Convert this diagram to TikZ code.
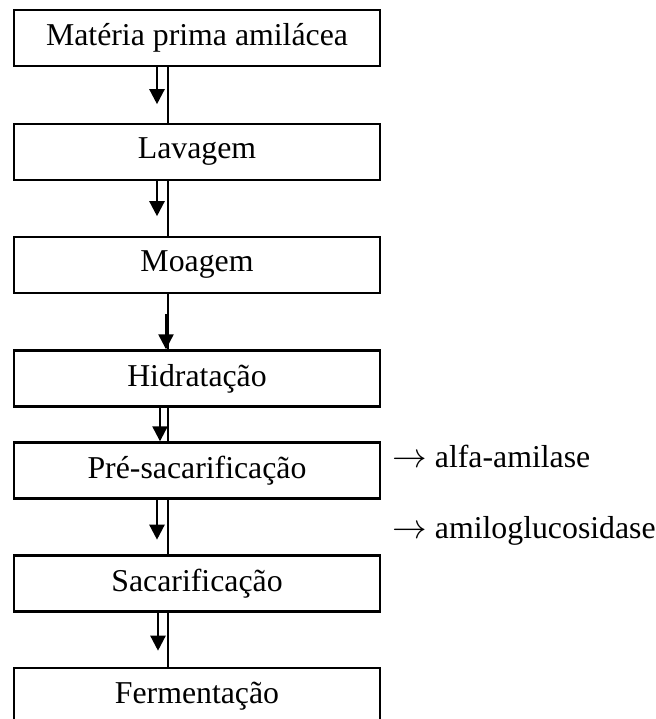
\documentclass[tikz,border=0pt]{standalone}
\usepackage{fontspec}
\setmainfont{Liberation Serif}
\usetikzlibrary{arrows.meta}
\begin{document}
\begin{tikzpicture}[x=0.5pt,y=-0.5pt,
  stepbox/.style={draw,line width=1.2pt,minimum width=183pt,minimum height=28pt,inner sep=0pt,
    font=\fontsize{15.9}{18}\selectfont},
  link/.style={line width=1.2pt},
  arr/.style={line width=1.2pt,-{Triangle[length=7.5pt,width=7.5pt]}},
  lbl/.style={anchor=base west,inner sep=0pt,font=\fontsize{15.9}{18}\selectfont}]
\clip (0,0) rectangle (656,719);
\fill[white] (0,0) rectangle (656,719);
\node[stepbox] (b1) at (197,38) {Matéria prima amilácea};
\node[stepbox] (b2) at (197,152) {Lavagem};
\node[stepbox] (b3) at (197,265) {Moagem};
\node[stepbox] (b4) at (197,378.5) {Hidratação};
\node[stepbox] (b5) at (197,470.5) {Pré-sacarificação};
\node[stepbox] (b6) at (197,583.5) {Sacarificação};
\node[stepbox] (b7) at (197,696) {Fermentação};
% vertical connecting lines
\draw[link] ([xshift=-14.5pt]b1.south) -- ([xshift=-14.5pt]b2.north);
\draw[link] ([xshift=-14.5pt]b2.south) -- ([xshift=-14.5pt]b3.north);
\draw[link] ([xshift=-14.5pt]b3.south) -- ([xshift=-14.5pt]b4.north);
\draw[link] ([xshift=-14.5pt]b4.south) -- ([xshift=-14.5pt]b5.north);
\draw[link] ([xshift=-14.5pt]b5.south) -- ([xshift=-14.5pt]b6.north);
\draw[link] ([xshift=-14.5pt]b6.south) -- ([xshift=-14.5pt]b7.north);
% arrows
\draw[arr] ([xshift=-20pt]b1.south) -- ++(0,37);
\draw[arr] ([xshift=-20pt]b2.south) -- ++(0,35);
\draw[arr] ([xshift=-15.5pt,yshift=-10pt]b3.south) -- ([xshift=-15.5pt]b4.north);
\draw[arr] ([xshift=-18.5pt]b4.south) -- ([xshift=-18.5pt]b5.north);
\draw[arr] ([xshift=-20pt]b5.south) -- ++(0,40);
\draw[arr] ([xshift=-19.5pt]b6.south) -- ++(0,38);
% side labels
\node[lbl] (l1) at (392,467) {$\rightarrow$ alfa-amilase};
\node[lbl] (l2) at (392,538) {$\rightarrow$ amiloglucosidase};
\end{tikzpicture}
\end{document}
